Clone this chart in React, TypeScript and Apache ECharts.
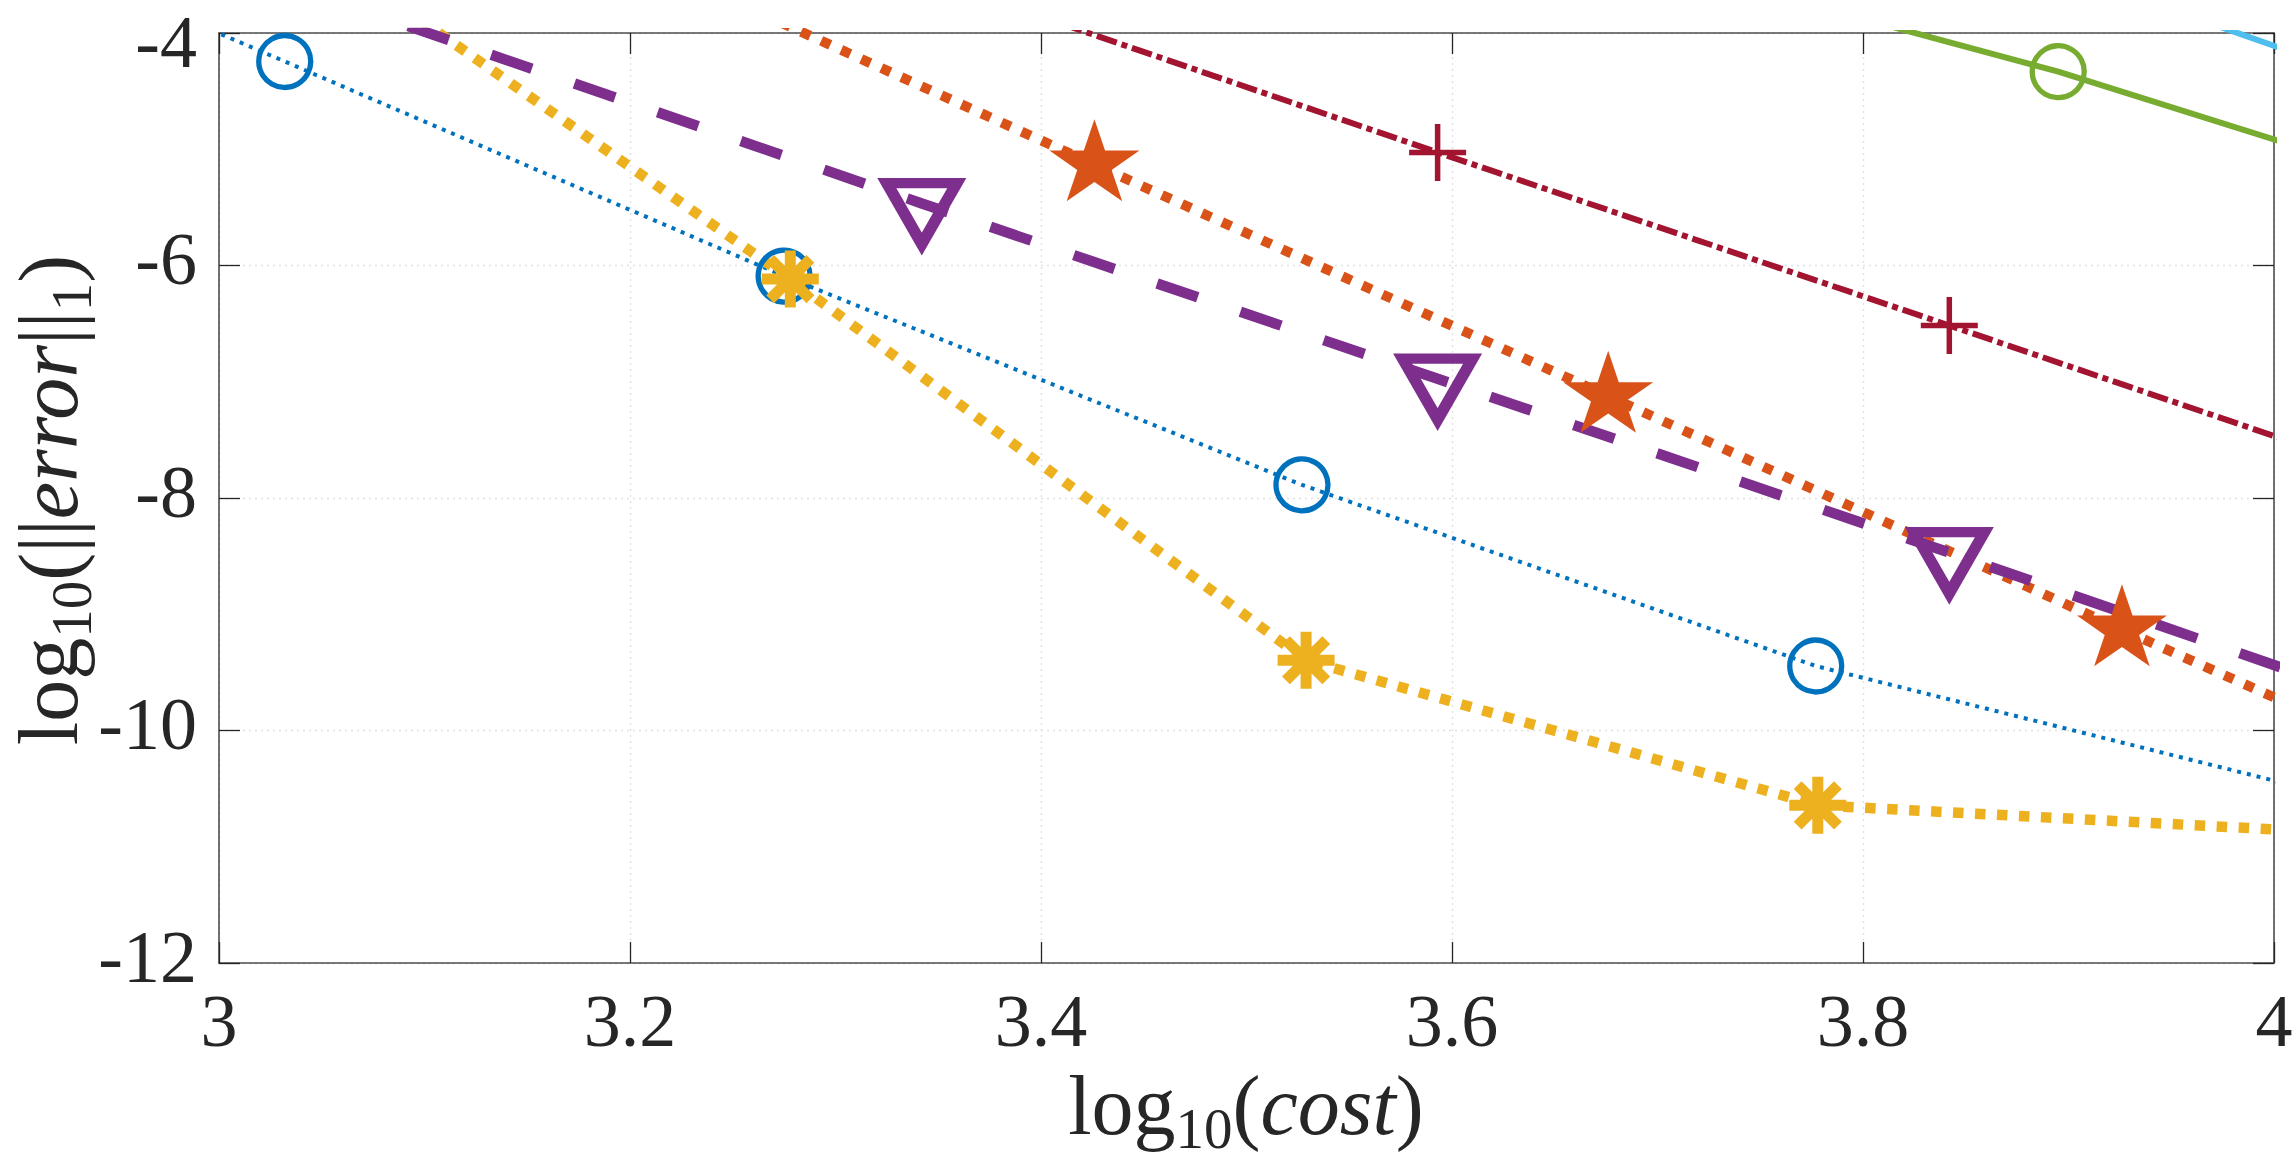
import React, { useEffect, useRef } from "react";
import * as echarts from "echarts";

// log10(cost) vs log10(||error||_1) for each scheme (first/last points lie outside the axes box and get clipped)
const blueX = [2.782, 3.032, 3.275, 3.527, 3.777, 4.027];
const blueY = [-2.35, -4.245, -6.091, -7.887, -9.445, -10.55];
const orangeX = [3.176, 3.426, 3.676, 3.926, 4.176];
const orangeY = [-3.13, -5.132, -7.124, -9.132, -11.1];
const yellowX = [3.028, 3.278, 3.529, 3.778, 4.028];
const yellowY = [-3.02, -6.117, -9.396, -10.644, -10.877];
const purpleX = [3.092, 3.342, 3.593, 3.842, 4.092];
const purpleY = [-3.94, -5.466, -6.975, -8.469, -10.0];
const greenX = [3.645, 3.895, 4.145];
const greenY = [-3.14, -4.333, -5.72];
const cyanX = [3.85, 4.1];
const cyanY = [-3.18, -4.73];
const redX = [3.342, 3.593, 3.842, 4.092];
const redY = [-3.51, -5.027, -6.516, -8.02];

const xTickLabels = ["3", "3.2", "3.4", "3.6", "3.8", "4"];
const yTickLabels = ["-12", "-10", "-8", "-6", "-4"];

const xMin = Number(xTickLabels[0]);
const xMax = Number(xTickLabels[xTickLabels.length - 1]);
const xStep = 0.2;
const yMin = Number(yTickLabels[0]);
const yMax = Number(yTickLabels[yTickLabels.length - 1]);
const yStep = 2;

const FONT = "Liberation Serif";
const INK = "#262626";
const SPINE = "#4d4d4d";

const zip = (xs: number[], ys: number[]) => xs.map((x, i) => [x, ys[i]]);

// five-pointed star outline (outer radius 100, inner 38.2)
const starPath = (() => {
  const pts: string[] = [];
  for (let k = 0; k < 10; k++) {
    const r = k % 2 === 0 ? 100 : 38.2;
    const a = ((-90 + k * 36) * Math.PI) / 180;
    pts.push(`${(r * Math.cos(a)).toFixed(2)},${(r * Math.sin(a)).toFixed(2)}`);
  }
  return "path://M" + pts.join("L") + "Z";
})();
const asteriskPath =
  "path://M0,-50L0,50M-50,0L50,0M-35.36,-35.36L35.36,35.36M-35.36,35.36L35.36,-35.36";
const plusPath = "path://M0,-50L0,50M-50,0L50,0";

const lineBase = {
  type: "line",
  xAxisIndex: 0,
  yAxisIndex: 0,
  clip: true,
  smooth: false,
  showAllSymbol: true,
  emphasis: { disabled: true },
  silent: true,
};

const hollow = "rgba(0,0,0,0)";

const series = [
  {
    ...lineBase,
    name: "blue",
    data: zip(blueX, blueY),
    lineStyle: { color: "#0072BD", width: 4, type: [4, 6], cap: "butt" },
    symbol: "circle",
    symbolSize: 52,
    itemStyle: { color: hollow, borderColor: "#0072BD", borderWidth: 5.3 },
  },
  {
    ...lineBase,
    name: "orange",
    data: zip(orangeX, orangeY),
    lineStyle: { color: "#D95319", width: 10, type: [10, 12], cap: "butt" },
    symbol: starPath,
    symbolSize: [90, 82],
    symbolOffset: [0, -4.3],
    itemStyle: { color: "#D95319", borderWidth: 0 },
  },
  {
    ...lineBase,
    name: "yellow",
    data: zip(yellowX, yellowY),
    lineStyle: { color: "#EDB120", width: 10.5, type: [10.5, 11.5], cap: "butt" },
    symbol: asteriskPath,
    symbolSize: 57,
    itemStyle: { color: "#EDB120", borderColor: "#EDB120", borderWidth: 11 },
  },
  {
    ...lineBase,
    name: "purple",
    data: zip(purpleX, purpleY),
    lineStyle: { color: "#7E2F8E", width: 10.5, type: [43, 45], cap: "butt" },
    symbol: "triangle",
    symbolSize: [70, 61],
    symbolRotate: 180,
    symbolOffset: [0, 10.2],
    itemStyle: { color: hollow, borderColor: "#7E2F8E", borderWidth: 11 },
  },
  {
    ...lineBase,
    name: "green",
    data: zip(greenX, greenY),
    lineStyle: { color: "#77AC30", width: 6 },
    symbol: "circle",
    symbolSize: 52,
    itemStyle: { color: hollow, borderColor: "#77AC30", borderWidth: 5.3 },
  },
  {
    ...lineBase,
    name: "cyan",
    data: zip(cyanX, cyanY),
    lineStyle: { color: "#4DBEEE", width: 6 },
    symbol: "diamond",
    symbolSize: 50,
    itemStyle: { color: hollow, borderColor: "#4DBEEE", borderWidth: 5.3 },
  },
  {
    ...lineBase,
    name: "red",
    data: zip(redX, redY),
    lineStyle: { color: "#A2142F", width: 6, type: [21, 5, 6, 5], cap: "butt" },
    symbol: plusPath,
    symbolSize: 57,
    itemStyle: { color: "#A2142F", borderColor: "#A2142F", borderWidth: 5.5 },
  },
];

const tickStyle = { color: INK, width: 1.3 };
const spineStyle = { color: SPINE, width: 1.6 };
const gridStyle = { color: "#e0e0e0", width: 1.4, type: [2, 4] };

const xLabel = (v: number) => xTickLabels[Math.round((v - xMin) / xStep)] ?? "";
// the topmost label is nudged down so it stays inside the canvas
const yLabel = (v: number) => {
  const i = Math.round((v - yMin) / yStep);
  const t = yTickLabels[i] ?? "";
  return i === yTickLabels.length - 1 ? `{top|${t}}` : t;
};

// main text, italic variables and lowered subscripts for the axis titles
const rich = {
  r: { fontFamily: FONT, fontSize: 84, lineHeight: 70, fill: INK },
  i: { fontFamily: FONT, fontSize: 84, lineHeight: 70, fontStyle: "italic", fill: INK },
  s: { fontFamily: FONT, fontSize: 57, height: 24, verticalAlign: "bottom", fill: INK },
};

const option = {
  animation: false,
  backgroundColor: "#ffffff",
  grid: {
    left: 219,
    right: 18,
    top: 33,
    bottom: 202,
    containLabel: false,
    outerBoundsMode: "none",
  },
  xAxis: [
    {
      type: "value",
      position: "bottom",
      min: xMin,
      max: xMax,
      interval: xStep,
      axisLine: { show: true, onZero: false, lineStyle: spineStyle },
      axisTick: { show: true, inside: true, length: 21, lineStyle: tickStyle },
      axisLabel: {
        show: true,
        margin: 21,
        fontFamily: FONT,
        fontSize: 74,
        color: INK,
        showMinLabel: true,
        showMaxLabel: true,
        hideOverlap: false,
        formatter: xLabel,
      },
      splitLine: { show: true, lineStyle: gridStyle },
    },
    {
      type: "value",
      position: "top",
      min: xMin,
      max: xMax,
      interval: xStep,
      axisLine: { show: true, onZero: false, lineStyle: spineStyle },
      axisTick: { show: true, inside: true, length: 21, lineStyle: tickStyle },
      axisLabel: { show: false },
      splitLine: { show: false },
    },
  ],
  yAxis: [
    {
      type: "value",
      position: "left",
      min: yMin,
      max: yMax,
      interval: yStep,
      axisLine: { show: true, onZero: false, lineStyle: spineStyle },
      axisTick: { show: true, inside: true, length: 21, lineStyle: tickStyle },
      axisLabel: {
        show: true,
        margin: 22,
        fontFamily: FONT,
        fontSize: 74,
        color: INK,
        padding: [0, 0, 13, 0],
        showMinLabel: true,
        showMaxLabel: true,
        hideOverlap: false,
        formatter: yLabel,
        rich: {
          top: { fontFamily: FONT, fontSize: 74, color: INK, padding: [30, 0, 0, 0] },
        },
      },
      splitLine: { show: true, lineStyle: gridStyle },
    },
    {
      type: "value",
      position: "right",
      min: yMin,
      max: yMax,
      interval: yStep,
      axisLine: { show: true, onZero: false, lineStyle: spineStyle },
      axisTick: { show: true, inside: true, length: 21, lineStyle: tickStyle },
      axisLabel: { show: false },
      splitLine: { show: false },
    },
  ],
  graphic: [
    {
      type: "text",
      x: 1246,
      y: 1105,
      silent: true,
      style: {
        text: "{r|log}{s|10}{r|(}{i|cost}{r|)}",
        rich,
        align: "center",
        verticalAlign: "middle",
        fill: INK,
      },
    },
    {
      type: "text",
      x: 48,
      y: 500,
      rotation: Math.PI / 2,
      silent: true,
      style: {
        text: "{r|log}{s|10}{r|(||}{i|error}{r|||}{s|1}{r|)}",
        rich,
        align: "center",
        verticalAlign: "middle",
        fill: INK,
      },
    },
  ],
  series,
};

export default function App() {
  const ref = useRef<HTMLDivElement>(null);
  useEffect(() => {
    if (!ref.current) return;
    const chart = echarts.init(ref.current, null, { renderer: "svg" });
    chart.setOption(option as any);
    return () => chart.dispose();
  }, []);
  return (
    <div
      ref={ref}
      style={{ position: "fixed", left: 0, top: 0, width: 2292, height: 1165, background: "#fff" }}
    />
  );
}
